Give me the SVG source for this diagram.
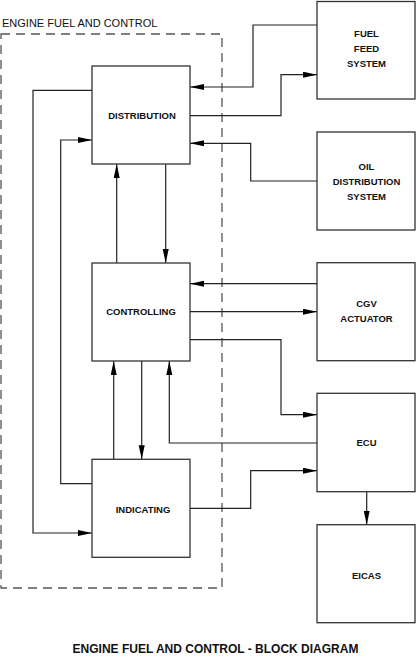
<svg xmlns="http://www.w3.org/2000/svg" width="416" height="659" viewBox="0 0 416 659">
<defs>
<marker id="ah" markerUnits="userSpaceOnUse" markerWidth="15" markerHeight="7" refX="14" refY="3" orient="auto">
<path d="M0,0 L14,3 L0,6 z" fill="#000"/>
</marker>
<style>
.box{fill:#fff;stroke:#333;stroke-width:1.3}
.lbl{font-family:"Liberation Sans",Arial,sans-serif;font-size:9.5px;font-weight:bold;text-anchor:middle;fill:#111}
.c{fill:none;stroke:#222;stroke-width:1.2;marker-end:url(#ah)}
.cn{fill:none;stroke:#222;stroke-width:1.2}
</style>
</defs>
<rect width="416" height="659" fill="#fff"/>
<g id="boundary">
<rect x="1" y="34" width="221" height="554" fill="none" stroke="#555" stroke-width="1.3" stroke-dasharray="9,6"/>
<text x="2" y="27" font-family="Liberation Sans,Arial,sans-serif" font-size="11" fill="#111">ENGINE FUEL AND CONTROL</text>
</g>
<g id="connectors">
<path class="c" d="M317,25 H253 V87 H190"/>
<path class="c" d="M190,115.7 H281 V74.7 H317"/>
<path class="c" d="M317,181 H250.7 V143.3 H190"/>
<path class="c" d="M92,90.3 H33 V533 H92"/>
<path class="c" d="M92,483.7 H60.7 V140 H92"/>
<path class="c" d="M116.7,263 V164"/>
<path class="c" d="M165.7,164 V263"/>
<path class="c" d="M317,283.7 H190"/>
<path class="c" d="M190,311.7 H317"/>
<path class="c" d="M190,339.7 H281 V414.7 H317"/>
<path class="c" d="M113.7,459.3 V361"/>
<path class="c" d="M141.7,361 V459.3"/>
<path class="c" d="M317,443 H169.3 V361"/>
<path class="c" d="M190,508.3 H250.7 V470.7 H317"/>
<path class="c" d="M366.7,491.7 V524.7"/>
</g>
<g id="distribution">
<rect class="box" x="92" y="66" width="98" height="98"/>
<text class="lbl" x="142" y="118.5">DISTRIBUTION</text>
</g>
<g id="controlling">
<rect class="box" x="92" y="263" width="98" height="98"/>
<text class="lbl" x="141" y="315.3">CONTROLLING</text>
</g>
<g id="indicating">
<rect class="box" x="92" y="459.3" width="98" height="98"/>
<text class="lbl" x="143" y="512.5">INDICATING</text>
</g>
<g id="fuel-feed-system">
<rect class="box" x="317" y="1.5" width="98" height="97.5"/>
<text class="lbl" x="366.5" y="37.3">FUEL</text>
<text class="lbl" x="366.5" y="52.3">FEED</text>
<text class="lbl" x="366.5" y="67">SYSTEM</text>
</g>
<g id="oil-distribution-system">
<rect class="box" x="317" y="132" width="98" height="98"/>
<text class="lbl" x="366.5" y="170">OIL</text>
<text class="lbl" x="366.5" y="185">DISTRIBUTION</text>
<text class="lbl" x="366.5" y="200">SYSTEM</text>
</g>
<g id="cgv-actuator">
<rect class="box" x="317" y="262.7" width="98" height="98"/>
<text class="lbl" x="366.5" y="306.7">CGV</text>
<text class="lbl" x="366.5" y="321.7">ACTUATOR</text>
</g>
<g id="ecu">
<rect class="box" x="317" y="393.3" width="98" height="98.4"/>
<text class="lbl" x="366.5" y="446">ECU</text>
</g>
<g id="eicas">
<rect class="box" x="317" y="524.7" width="98" height="98"/>
<text class="lbl" x="366.5" y="579">EICAS</text>
</g>
<text x="215.5" y="653" font-family="Liberation Sans,Arial,sans-serif" font-size="12" font-weight="bold" text-anchor="middle" fill="#111">ENGINE FUEL AND CONTROL - BLOCK DIAGRAM</text>
</svg>
